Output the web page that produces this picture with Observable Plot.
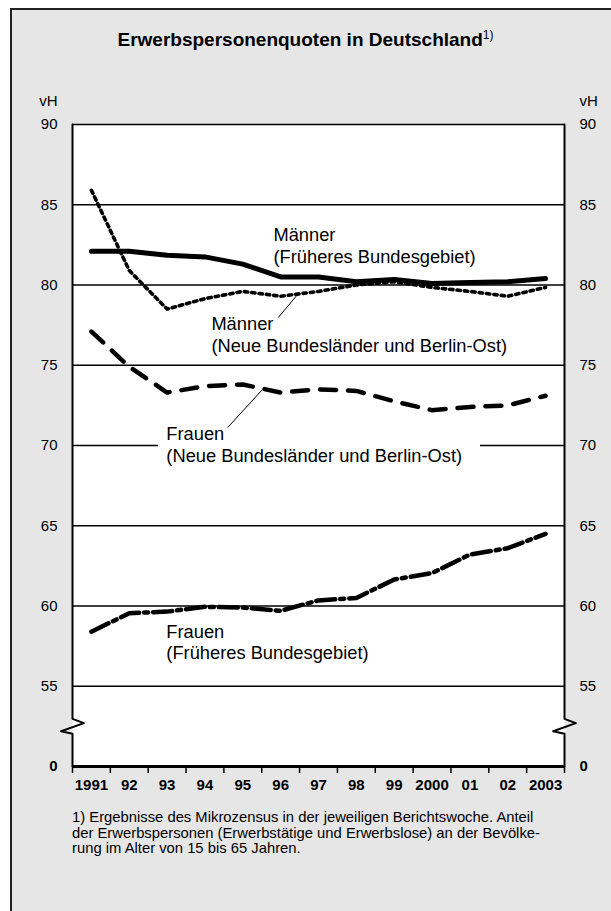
<!DOCTYPE html>
<html>
<head>
<meta charset="utf-8">
<script src="https://cdn.jsdelivr.net/npm/d3@7"></script>
<script src="https://cdn.jsdelivr.net/npm/@observablehq/plot@0.6"></script>
<style>
  body { margin: 0; background: #ffffff; }
  #page { position: relative; width: 611px; height: 911px; overflow: hidden; font-family: "Liberation Sans", Arial, Helvetica, sans-serif; color: #000; }
  #frame { position: absolute; left: 10px; top: 8px; width: 640px; height: 940px; border: 2px solid #222; background: #e6e6e6; }
  #title { position: absolute; left: 0; width: 611px; top: 29px; text-align: center; font-size: 19px; font-weight: bold; line-height: 22px; white-space: nowrap; }
  #title .sup { font-size: 12px; font-weight: normal; position: relative; top: -7px; }
  #chart { position: absolute; left: 0; top: 0; }
  #note { position: absolute; left: 72px; top: 810px; font-size: 14.8px; line-height: 15.5px; white-space: nowrap; }
</style>
</head>
<body>
<div id="page">
  <div id="frame"></div>
  <div id="title">Erwerbspersonenquoten in Deutschland<span class="sup">1)</span></div>
  <div id="chart"></div>
  <div id="note">1) Ergebnisse des Mikrozensus in der jeweiligen Berichtswoche. Anteil<br>der Erwerbspersonen (Erwerbstätige und Erwerbslose) an der Bevölke-<br>rung im Alter von 15 bis 65 Jahren.</div>
</div>
<script>
// ---- data ----
const years = [1991, 1992, 1993, 1994, 1995, 1996, 1997, 1998, 1999, 2000, 2001, 2002, 2003];
const yearLabels = ["1991", "92", "93", "94", "95", "96", "97", "98", "99", "2000", "01", "02", "2003"];
const maennerWest = [82.1, 82.1, 81.85, 81.75, 81.3, 80.5, 80.5, 80.2, 80.35, 80.1, 80.15, 80.2, 80.4];
const maennerOst  = [85.9, 80.9, 78.5, 79.15, 79.6, 79.3, 79.6, 80.0, 80.2, 79.85, 79.6, 79.3, 79.85];
const frauenOst   = [77.1, 74.9, 73.3, 73.7, 73.8, 73.3, 73.5, 73.4, 72.75, 72.2, 72.4, 72.5, 73.1];
const frauenWest  = [58.4, 59.55, 59.65, 59.95, 59.9, 59.7, 60.35, 60.5, 61.65, 62.05, 63.2, 63.6, 64.5];
const yTicks = [55, 60, 65, 70, 75, 80, 85, 90];
const gridValues = [55, 60, 65, 75, 80, 85];
const seriesLabels = [
  "Männer\n(Früheres Bundesgebiet)",
  "Männer\n(Neue Bundesländer und Berlin-Ost)",
  "Frauen\n(Neue Bundesländer und Berlin-Ost)",
  "Frauen\n(Früheres Bundesgebiet)"
];

const toRows = arr => years.map((year, i) => ({year, value: arr[i]}));
const x0 = years[0] - 0.5, x1 = years[years.length - 1] + 0.5;
const boundaries = years.map(y => y - 0.5).concat([x1]);
const font = "'Liberation Sans', Arial, Helvetica, sans-serif";

// axis break (zigzag) in data units, relative to axis position
const breakShape = (xa) => [
  {x: xa, y: 90}, {x: xa, y: 52.97}, {x: xa + 0.3, y: 52.70},
  {x: xa - 0.3, y: 52.20}, {x: xa, y: 52.04}, {x: xa, y: 50}
];

const labelPos = [
  {x: 1995.81, y: 82.52, t: seriesLabels[0]},
  {x: 1994.17, y: 76.92, t: seriesLabels[1]},
  {x: 1992.98, y: 70.12, t: seriesLabels[2]},
  {x: 1992.98, y: 57.79, t: seriesLabels[3]}
];
const leaders = [
  {x1: 1995.94, y1: 77.98, x2: 1996.47, y2: 79.47},
  {x1: 1994.60, y1: 71.12, x2: 1995.52, y2: 73.49}
];

const chart = Plot.plot({
  width: 611,
  height: 800,
  marginLeft: 72,
  marginRight: 47,
  marginTop: 124,
  marginBottom: 34,
  x: {domain: [x0, x1], axis: null},
  y: {domain: [50, 90], axis: null},
  style: {background: "transparent", fontFamily: font, overflow: "visible", color: "#000"},
  marks: [
    Plot.frame({fill: "white", stroke: null}),
    Plot.ruleY(gridValues, {stroke: "#000", strokeWidth: 1.5}),
    Plot.ruleY([70], {x1: x0, x2: 1992.77, stroke: "#000", strokeWidth: 1.5}),
    Plot.ruleY([70], {x1: 2001.28, x2: x1, stroke: "#000", strokeWidth: 1.5}),
    Plot.line(toRows(frauenWest), {x: "year", y: "value", stroke: "#000", strokeWidth: 4.5, strokeDasharray: "19,5,4,5"}),
    Plot.line(toRows(frauenOst), {x: "year", y: "value", stroke: "#000", strokeWidth: 4.5, strokeDasharray: "16,12"}),
    Plot.line(toRows(maennerOst), {x: "year", y: "value", stroke: "#000", strokeWidth: 3.6, strokeDasharray: "3.4,4"}),
    Plot.line(toRows(maennerWest), {x: "year", y: "value", stroke: "#000", strokeWidth: 5}),
    Plot.text(labelPos, {x: "x", y: "y", text: "t", textAnchor: "start", lineAnchor: "middle", lineHeight: 1.2, fontSize: 18.3, fill: "#000"}),
    Plot.link(leaders, {x1: "x1", y1: "y1", x2: "x2", y2: "y2", stroke: "#000", strokeWidth: 1}),
    Plot.ruleY([90], {stroke: "#000", strokeWidth: 1.5}),
    Plot.line(breakShape(x0), {x: "x", y: "y", stroke: "#000", strokeWidth: 2}),
    Plot.line(breakShape(x1), {x: "x", y: "y", stroke: "#000", strokeWidth: 2}),
    Plot.ruleY([50], {stroke: "#000", strokeWidth: 3}),
    Plot.axisX(boundaries, {anchor: "bottom", tickSize: 7, strokeWidth: 1.5, tickFormat: () => ""}),
    Plot.axisX(years, {anchor: "bottom", tickSize: 0, tickPadding: 12.6, fontSize: 15, fontWeight: "bold", tickFormat: d => yearLabels[years.indexOf(d)]}),
    Plot.axisY(yTicks, {anchor: "left", tickSize: 0, tickPadding: 15, fontSize: 15}),
    Plot.axisY(yTicks, {anchor: "right", tickSize: 0, tickPadding: 15, fontSize: 15}),
    Plot.axisY([50], {anchor: "left", tickSize: 0, tickPadding: 15, fontSize: 15, fontWeight: "bold", tickFormat: () => "0"}),
    Plot.axisY([50], {anchor: "right", tickSize: 0, tickPadding: 15, fontSize: 15, fontWeight: "bold", tickFormat: () => "0"}),
    Plot.text(["vH"], {x: x0, y: 90, dx: -15, dy: -23, textAnchor: "end", fontSize: 15, fill: "#000"}),
    Plot.text(["vH"], {x: x1, y: 90, dx: 15, dy: -23, textAnchor: "start", fontSize: 15, fill: "#000"})
  ]
});
document.getElementById("chart").appendChild(chart);
</script>
</body>
</html>
